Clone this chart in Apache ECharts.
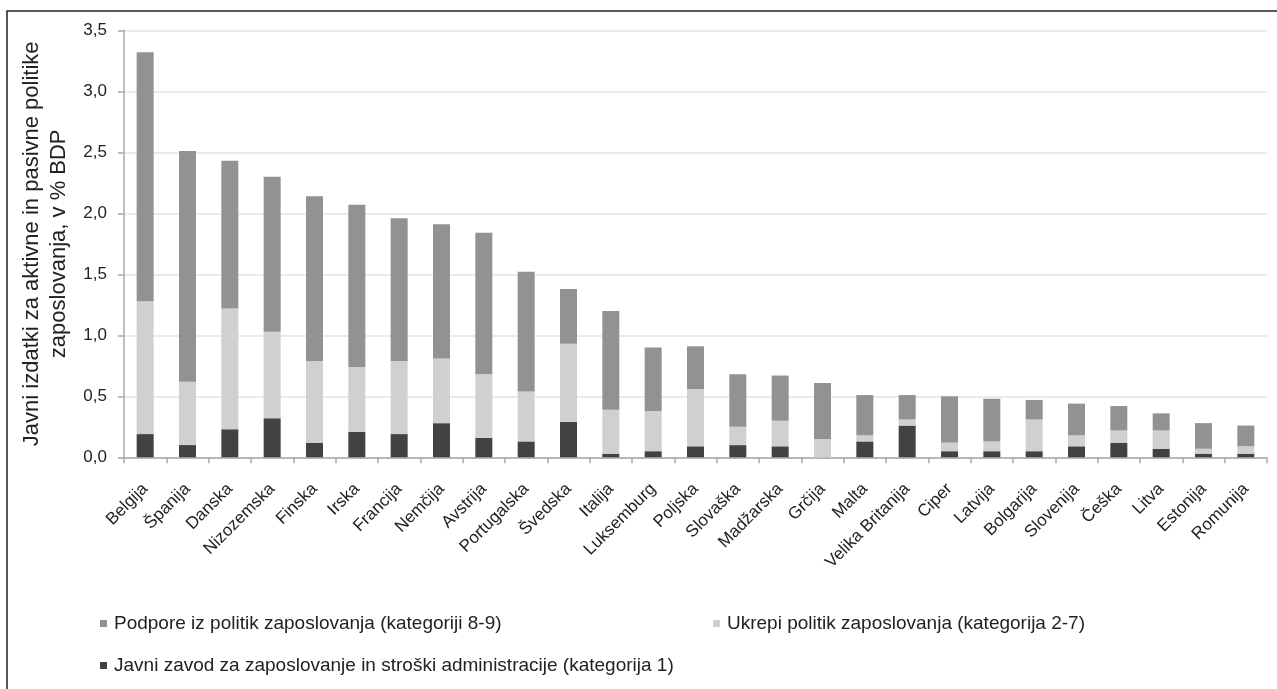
<!DOCTYPE html>
<html>
<head>
<meta charset="utf-8">
<script src="https://cdn.jsdelivr.net/npm/echarts@6/dist/echarts.min.js"></script>
<style>
  html, body { margin: 0; padding: 0; background: #fff; }
  #chart { width: 1277px; height: 689px; }
</style>
</head>
<body>
<div id="chart"></div>
<script>
const categories = ['Belgija','Španija','Danska','Nizozemska','Finska','Irska','Francija','Nemčija','Avstrija','Portugalska','Švedska','Italija','Luksemburg','Poljska','Slovaška','Madžarska','Grčija','Malta','Velika Britanija','Ciper','Latvija','Bolgarija','Slovenija','Češka','Litva','Estonija','Romunija'];
const seriesNames = ['Javni zavod za zaposlovanje in stroški administracije (kategorija 1)','Ukrepi politik zaposlovanja (kategorija 2-7)','Podpore iz politik zaposlovanja (kategoriji 8-9)'];
const kat1 = [0.19,0.10,0.23,0.32,0.12,0.21,0.19,0.28,0.16,0.13,0.29,0.03,0.05,0.09,0.10,0.09,0.00,0.13,0.26,0.05,0.05,0.05,0.09,0.12,0.07,0.03,0.03];
const kat27 = [1.09,0.52,0.99,0.71,0.67,0.53,0.60,0.53,0.52,0.41,0.64,0.36,0.33,0.47,0.15,0.21,0.15,0.05,0.05,0.07,0.08,0.26,0.09,0.10,0.15,0.04,0.06];
const kat89 = [2.04,1.89,1.21,1.27,1.35,1.33,1.17,1.10,1.16,0.98,0.45,0.81,0.52,0.35,0.43,0.37,0.46,0.33,0.20,0.38,0.35,0.16,0.26,0.20,0.14,0.21,0.17];
const yTicks = [0, 0.5, 1, 1.5, 2, 2.5, 3, 3.5];
const yTitle = 'Javni izdatki za aktivne in pasivne politike\nzaposlovanja, v % BDP';

const colors = ['#424242', '#d0d0d0', '#929292'];
const FONT = '"Liberation Sans", Arial, sans-serif';

const chart = echarts.init(document.getElementById('chart'));
const values = [kat1, kat27, kat89];
const legendPos = [{left: 95, top: 651}, {left: 708, top: 609}, {left: 95, top: 609}];

chart.setOption({
  animation: false,
  backgroundColor: '#fff',
  textStyle: { fontFamily: FONT },
  graphic: [{
    type: 'rect', silent: true,
    shape: { x: 7, y: 11, width: 1320, height: 720 },
    style: { fill: 'none', stroke: '#222', lineWidth: 1.5 }
  }],
  grid: { left: 124, right: 10, top: 30.3, bottom: 231.7, containLabel: false },
  legend: seriesNames.map((n, i) => ({
    data: [n], left: legendPos[i].left, top: legendPos[i].top,
    icon: 'rect', itemWidth: 7, itemHeight: 7, itemGap: 0,
    textStyle: { fontSize: 19, color: '#222', fontFamily: FONT, padding: [0, 0, 0, 2] }
  })),
  xAxis: {
    type: 'category', data: categories,
    axisLine: { lineStyle: { color: '#a8a8a8', width: 1.5 } },
    axisTick: { show: true, length: 6, lineStyle: { color: '#a8a8a8', width: 1.5 } },
    axisLabel: { rotate: 45, interval: 0, fontSize: 17, color: '#222', margin: 29, fontFamily: FONT }
  },
  yAxis: {
    type: 'value', min: 0, max: 3.5, interval: 0.5,
    name: yTitle, nameLocation: 'middle', nameGap: 51, nameRotate: 90,
    nameTextStyle: { fontSize: 22, color: '#222', lineHeight: 27, fontFamily: FONT },
    axisLine: { show: true, lineStyle: { color: '#a8a8a8', width: 1.5 } },
    axisTick: { show: true, length: 6, lineStyle: { color: '#a8a8a8', width: 1.5 } },
    splitLine: { lineStyle: { color: '#e4e4e4', width: 1.5 } },
    axisLabel: {
      fontSize: 17, color: '#222', margin: 17, fontFamily: FONT,
      formatter: v => yTicks.includes(v) ? v.toFixed(1).replace('.', ',') : ''
    }
  },
  series: seriesNames.map((n, i) => ({
    name: n, type: 'bar', stack: 'total', data: values[i], barWidth: 17,
    itemStyle: { color: colors[i] }
  }))
});
</script>
</body>
</html>
